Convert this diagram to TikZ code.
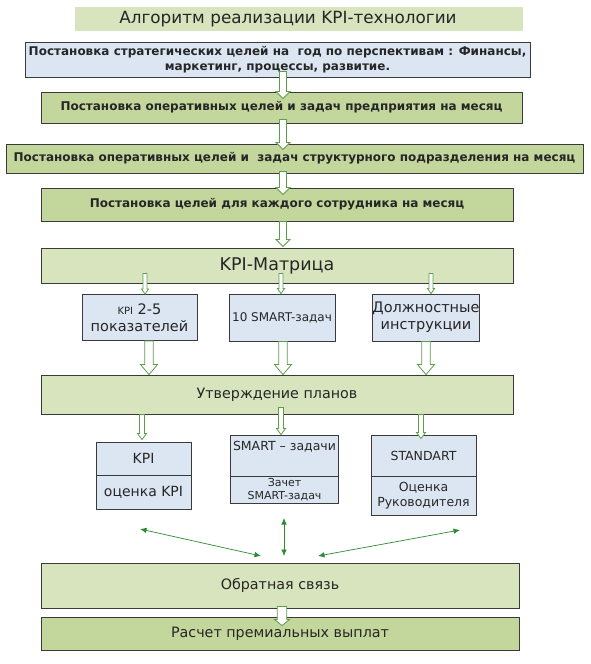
\documentclass[tikz,border=0pt]{standalone}
\usepackage{fontspec}
\setmainfont{DejaVu Sans}
\usetikzlibrary{calc,arrows.meta}
\definecolor{lblue}{HTML}{DCE6F2}
\definecolor{olivebox}{HTML}{C3D69B}
\definecolor{lgreen}{HTML}{D7E4BD}
\definecolor{agreen}{HTML}{5E9E4A}
\definecolor{dgreen}{HTML}{2E8B32}
\definecolor{bord}{HTML}{3A3A3A}
\newcommand{\fsz}[1]{\fontsize{#1}{\fpeval{#1*1.2}}\selectfont}
\begin{document}
\begin{tikzpicture}[x=1pt,y=-1pt,
  box/.style={draw=bord, line width=0.9pt, inner sep=0pt, align=center, text=black!85},
  boldbox/.style={box, font=\bfseries\fontsize{12}{14.5}\selectfont},
  barrow/.style n args={3}{draw=agreen, fill=white, line width=0.8pt,
    to path={let \p1=(\tikztostart), \p2=(\tikztotarget) in
      (\x1-#1,\y1) -- (\x1+#1,\y1) -- (\x1+#1,\y2+#3) -- (\x1+#2,\y2+#3) --
      (\x1,\y2) -- (\x1-#2,\y2+#3) -- (\x1-#1,\y2+#3) -- cycle}},
  darrow/.style={draw=dgreen, line width=0.7pt,
    {Latex[length=6.5pt,width=5.5pt]}-{Latex[length=6.5pt,width=5.5pt]}},
]
\useasboundingbox (0,0) rectangle (591,664);
\fill[white] (0,0) rectangle (591,664);

\node[fill=lgreen, inner sep=0pt, minimum width=448, minimum height=24,
  text width=448pt, align=center, text=black!85, font=\fsz{16.8}] (title) at (299,19)
  {\hspace*{-22pt}Алгоритм реализации KPI-технологии};

\node[boldbox, fill=lblue, minimum width=505, minimum height=35] (b1) at (277.5,59.5)
  {Постановка стратегических целей на \ год по перспективам : Финансы,\\маркетинг, процессы, развитие.};
\node[boldbox, fill=olivebox, minimum width=481, minimum height=31] (b2) at (281.5,107.5)
  {Постановка оперативных целей и задач предприятия на месяц};
\node[boldbox, fill=olivebox, minimum width=577, minimum height=29] (b3) at (294.5,158.5)
  {Постановка оперативных целей и \ задач структурного подразделения на месяц};
\node[boldbox, fill=olivebox, minimum width=472, minimum height=33] (b4) at (277,204.5)
  {Постановка целей для каждого сотрудника на месяц};
\node[box, fill=lgreen, minimum width=472, minimum height=35, font=\fsz{17.5}] (km) at (277,265.5)
  {KPI-Матрица};

\node[box, fill=lblue, minimum width=115, minimum height=46, font=\fsz{14.5}] (sa) at (139.5,317.5)
  {{\fsz{10}KPI} 2-5\\показателей};
\node[box, fill=lblue, minimum width=106, minimum height=47, font=\fsz{12}] (sb) at (282,317.5)
  {10 SMART-задач};
\node[box, fill=lblue, minimum width=106, minimum height=47, font=\fsz{14.5}] (sc) at (426,317.5)
  {Должностные\\инструкции};

\node[box, fill=lgreen, minimum width=472, minimum height=39, font=\fsz{14.3}] (ut) at (277,394.5)
  {Утверждение планов};

\node[box, fill=lblue, minimum width=95, minimum height=33, font=\fsz{14}] (ka) at (143.5,458.5) {KPI};
\node[box, fill=lblue, minimum width=95, minimum height=34, font=\fsz{14}] (kb) at (143.5,492) {оценка KPI};
\node[box, fill=lblue, minimum width=108, minimum height=41, font=\fsz{12.5},
  text height=9.5pt, text depth=19.5pt] (ma) at (284.5,455.5) {SMART – задачи};
\node[box, fill=lblue, minimum width=108, minimum height=27, font=\fsz{11}] (mb) at (284.5,489.5) {Зачет\\SMART-задач};
\node[box, fill=lblue, minimum width=105, minimum height=41, font=\fsz{12.5}] (sta) at (423.5,455.5) {STANDART};
\node[box, fill=lblue, minimum width=105, minimum height=39, font=\fsz{12.5}] (stb) at (423.5,495.5) {Оценка\\Руководителя};

\node[box, fill=lgreen, minimum width=478, minimum height=45, font=\fsz{14.3}] (ob) at (280,585.5)
  {Обратная связь};
\node[box, fill=olivebox, minimum width=478, minimum height=33, font=\fsz{14.3}] (ra) at (280,633.5)
  {Расчет премиальных выплат};

% block arrows
\coordinate (ax) at (283,0);
\coordinate (az) at (282,0);
\draw[barrow={3.5pt}{7pt}{7pt}] ($(b1.south -| ax)+(0,-6)$) to ($(b2.north -| ax)+(0,7)$);
\draw[barrow={3.5pt}{7pt}{7pt}] ($(b2.south -| ax)+(0,-4)$) to ($(b3.north -| ax)+(0,6)$);
\draw[barrow={3.5pt}{7pt}{7pt}] ($(b3.south -| ax)+(0,-2)$) to ($(b4.north -| ax)+(0,7)$);
\draw[barrow={3.5pt}{7pt}{7pt}] (b4.south -| ax) to ($(km.north -| ax)+(0,-1)$);
\draw[barrow={4.7pt}{7.5pt}{6pt}] ($(ob.south -| az)+(0,-2)$) to ($(ra.north -| az)+(0,9)$);

% thin arrows from matrix
\coordinate (m1) at (145,0);
\coordinate (m2) at (281,0);
\coordinate (m3) at (431,0);
\draw[barrow={2pt}{3.5pt}{5pt}] ($(km.south -| m1)+(0,-10)$) to (sa.north -| m1);
\draw[barrow={2pt}{3.5pt}{5pt}] ($(km.south -| m2)+(0,-10)$) to (sb.north -| m2);
\draw[barrow={2pt}{3.5pt}{5pt}] ($(km.south -| m3)+(0,-10)$) to (sc.north -| m3);

% arrows to approval
\coordinate (u1) at (149,0);
\coordinate (u3) at (426,0);
\draw[barrow={4.3pt}{8.5pt}{10pt}] (sa.south -| u1) to (ut.north -| u1);
\draw[barrow={4.3pt}{8.5pt}{10pt}] (sb.south -| ax) to (ut.north -| ax);
\draw[barrow={4.3pt}{8.5pt}{10pt}] (sc.south -| u3) to (ut.north -| u3);

% arrows from approval
\coordinate (v1) at (142,0);
\coordinate (v2) at (281,0);
\coordinate (v3) at (421,0);
\draw[barrow={2.5pt}{4.5pt}{6pt}] (ut.south -| v1) to ($(ka.north -| v1)+(0,-2)$);
\draw[barrow={2.5pt}{4.5pt}{6pt}] ($(ut.south -| v2)+(0,-7)$) to (ma.north -| v2);
\draw[barrow={2.5pt}{4.5pt}{6pt}] (ut.south -| v3) to ($(sta.north -| v3)+(0,4)$);

% feedback arrows
\coordinate (f1) at (140,529);
\coordinate (f2) at (261,556);
\coordinate (f3) at (284,518);
\coordinate (f4) at (284,556);
\coordinate (f5) at (460,530);
\coordinate (f6) at (318,556);
\draw[darrow] (f1) -- (f2);
\draw[darrow] (f3) -- (f4);
\draw[darrow] (f5) -- (f6);
\end{tikzpicture}
\end{document}
